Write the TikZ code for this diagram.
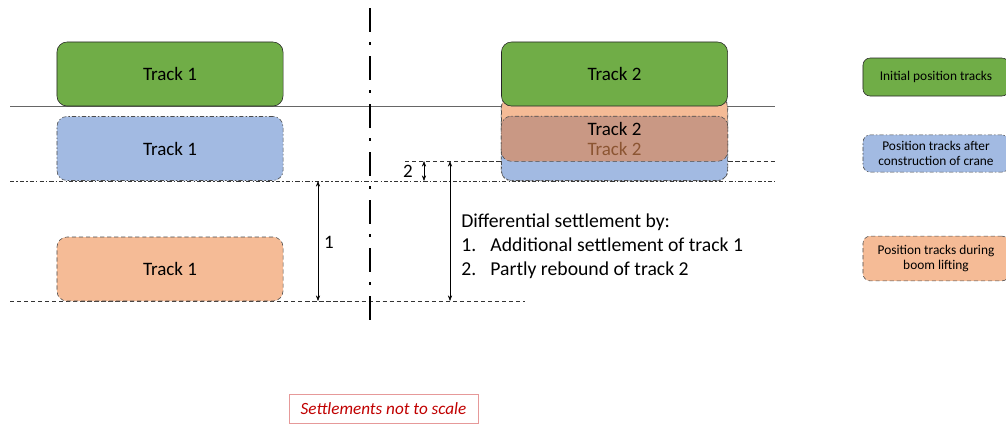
\documentclass[tikz,border=0pt]{standalone}
\usepackage{fontspec}
\setmainfont{Carlito}
\usetikzlibrary{positioning, arrows.meta, calc}
\definecolor{TrackGreen}{RGB}{112,173,71}
\definecolor{TrackBlue}{RGB}{162,186,226}
\definecolor{TrackOrange}{RGB}{245,187,150}
\definecolor{TrackBlend}{RGB}{201,152,132}
\definecolor{BlendText}{RGB}{140,85,50}
\definecolor{NoteRed}{RGB}{192,0,0}
\tikzset{
  track/.style={rounded corners=0.25cm, minimum width=5.65cm, minimum height=1.6cm, inner sep=0pt, font=\fontsize{13.5}{16}\selectfont},
  initial/.style={track, draw=black!85, fill=TrackGreen},
  built/.style={track, draw=black!70, fill=TrackBlue, dash pattern=on 3pt off 1.5pt on 1pt off 1.5pt},
  lifted/.style={track, draw=black!70, fill=TrackOrange, densely dashed},
  legendbox/.style={minimum width=3.65cm, rounded corners=0.18cm, inner sep=0pt, align=center, font=\fontsize{9.5}{11}\selectfont},
  dim/.style={thin, <->, >={Stealth[length=4pt,width=3pt]}},
}

\begin{document}
\begin{tikzpicture}[x=0.025cm, y=-0.025cm]
\useasboundingbox (0,0) rectangle (1006,424);

% reference levels
\draw[black!60] (10,106) -- (775,106);
\draw[black!80, dash pattern=on 3pt off 1.5pt on 1pt off 1.5pt] (10,181) -- (775,181);
\draw[black!80, densely dashed] (10,301) -- (525,301);
\draw[black!80, densely dashed] (405,161) -- (775,161);

% track 1
\node[initial] (green1) at (170,74) {Track 1};
\node[built] (blue1) at (170,148.5) {Track 1};
\node[lifted] (orange1) at (170,269) {Track 1};

% track 2
\node[lifted] (orange2) at (614.5,129) {};
\node[built] (blue2) at (614.5,148.5) {};
\fill[TrackBlend, rounded corners=0.25cm] (blue2.north west) rectangle (orange2.south east);
\draw[black!70, densely dashed, rounded corners=0.25cm] (orange2.north west) rectangle (orange2.south east);
\draw[black!70, dash pattern=on 3pt off 1.5pt on 1pt off 1.5pt, rounded corners=0.25cm] (blue2.north west) rectangle (blue2.south east);
\node[initial] (green2) at (614.5,74) {Track 2};
\node[font=\fontsize{13.5}{16}\selectfont] (text2a) at (orange2) {Track 2};
\node[font=\fontsize{13.5}{16}\selectfont, text=BlendText] (text2b) at (blue2) {Track 2};

% axis of the crane
\draw[line width=2.1pt, dash pattern=on 0.6cm off 0.25cm on 0.075cm off 0.275cm] (370,8) -- (370,325);

% settlements
\coordinate (s1top) at (318,181);
\coordinate (s1bot) at (318,301);
\coordinate (s2top) at (424,161);
\coordinate (s2bot) at (424,181);
\coordinate (stop) at (450,161);
\coordinate (sbot) at (450,301);
\draw[dim] (s1top) -- (s1bot);
\draw[dim] (s2top) -- (s2bot);
\draw[dim] (stop) -- (sbot);
\node[font=\fontsize{13.5}{16}\selectfont] (lab1) at (329,242) {1};
\node[font=\fontsize{13.5}{16}\selectfont] (lab2) at (408,171) {2};

\node[anchor=north west, inner sep=0pt, align=left, font=\fontsize{14}{17}\selectfont] (expl) at (461,214)
  {Differential settlement by:\\
   \makebox[0.73cm][l]{1.}Additional settlement of track 1\\
   \makebox[0.73cm][l]{2.}Partly rebound of track 2};

% legend
\node[legendbox, draw=black!85, fill=TrackGreen, minimum height=0.95cm] (leg1) at (936,77) {Initial position tracks};
\node[legendbox, draw=black!70, fill=TrackBlue, minimum height=0.93cm, dash pattern=on 3pt off 1.5pt on 1pt off 1.5pt] (leg2) at (936,153.5) {Position tracks after\\construction of crane};
\node[legendbox, draw=black!70, fill=TrackOrange, minimum height=1.12cm, densely dashed] (leg3) at (936,258.5) {Position tracks during\\boom lifting};

\node[draw=NoteRed!40, text=NoteRed, minimum width=4.725cm, minimum height=0.725cm, font=\itshape\fontsize{12.2}{14}\selectfont] (note) at (383.5,408.5) {Settlements not to scale};
\end{tikzpicture}
\end{document}
